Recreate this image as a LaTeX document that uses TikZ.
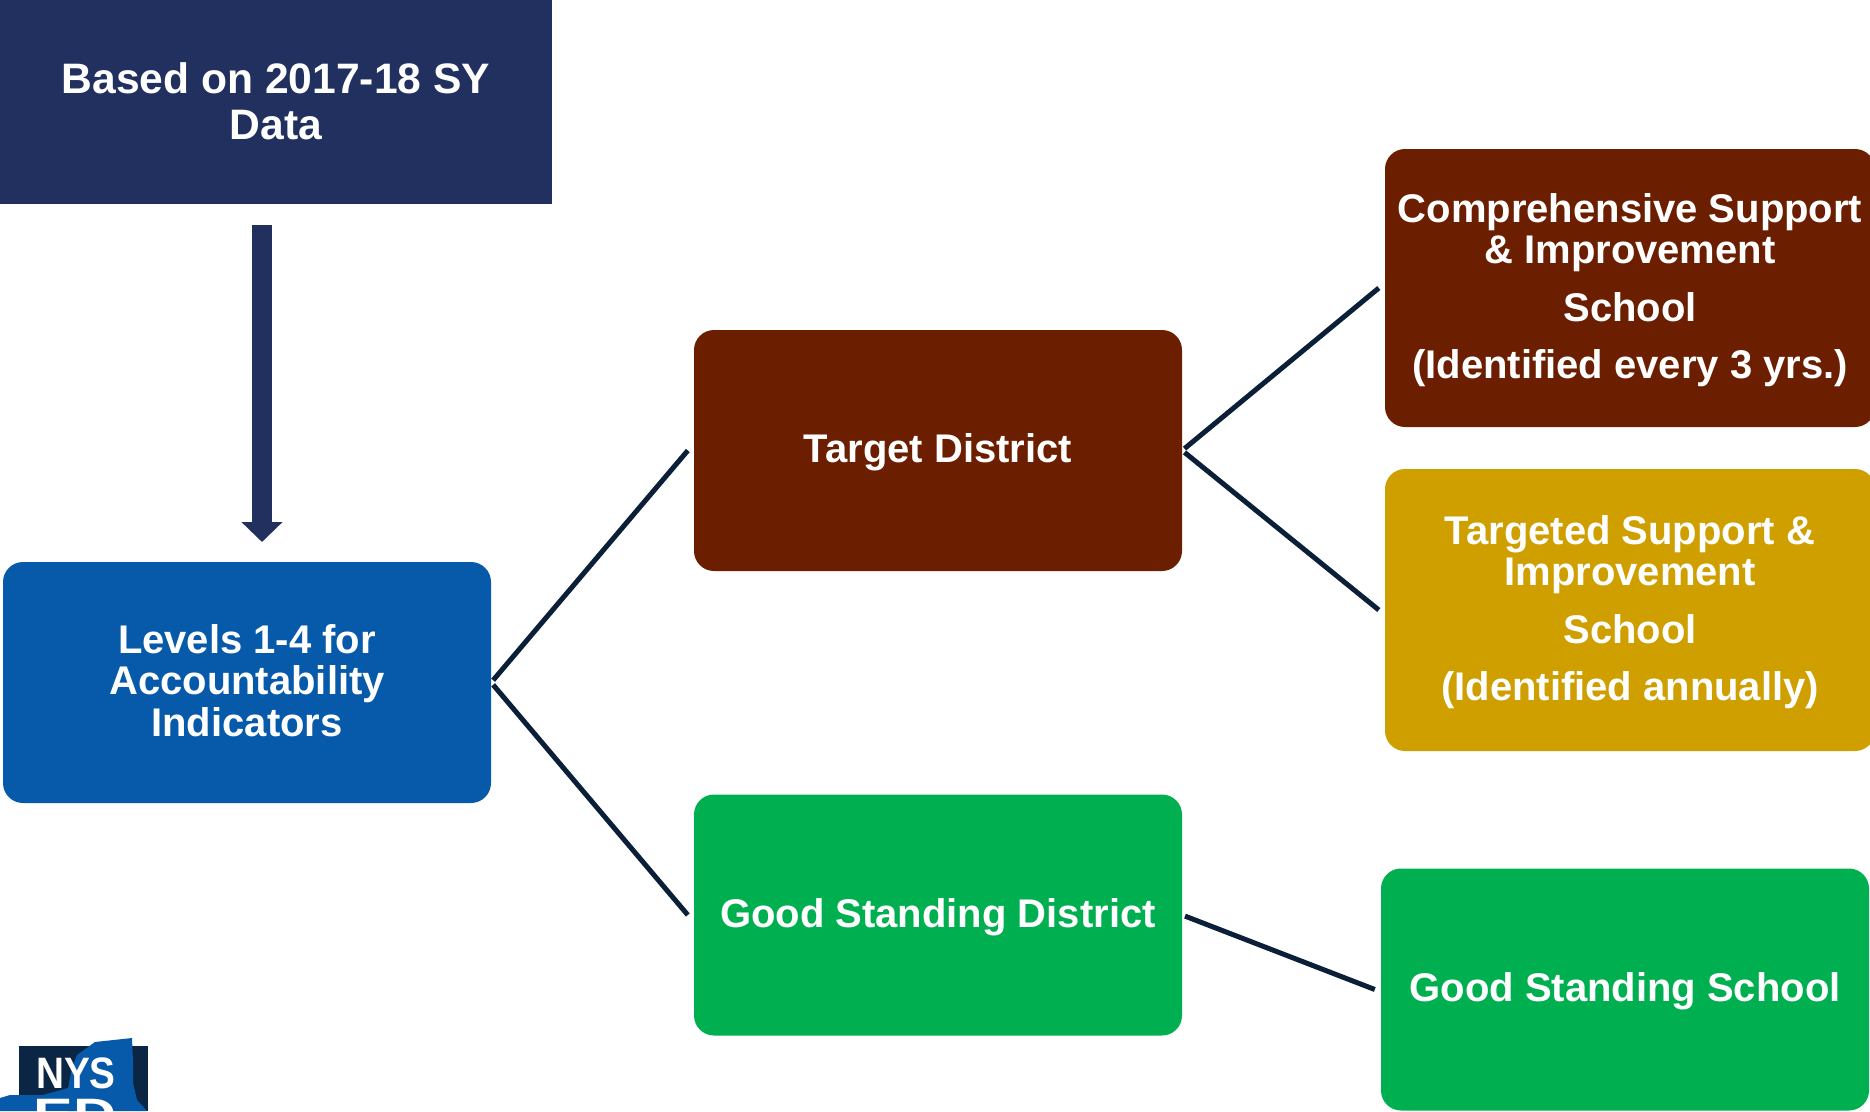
\documentclass[tikz,border=0pt]{standalone}
\usepackage{fontspec}
\setmainfont{Liberation Sans}
\usetikzlibrary{arrows.meta}
\definecolor{navybox}{HTML}{22305F}
\definecolor{bluebox}{HTML}{075AAA}
\definecolor{maroonbox}{HTML}{6B1F00}
\definecolor{goldbox}{HTML}{CF9F00}
\definecolor{greenbox}{HTML}{00B050}
\definecolor{linkline}{HTML}{0B1F38}
\definecolor{logodark}{HTML}{0B2545}
\newcommand{\boxlines}[2]{\raisebox{#1}[0pt][0pt]{\begin{tabular}[t]{@{}c@{}}#2\end{tabular}}}
\begin{document}
\begin{tikzpicture}[x=1pt,y=-1pt]
\tikzset{box/.style={rounded corners=20pt,inner sep=0pt,text=white,align=center,
  font=\fontsize{40}{41}\selectfont\bfseries},
  link/.style={draw=linkline,line width=5pt,shorten <=3pt}}
\useasboundingbox (0,0) rectangle (1870,1111);

\node[box,sharp corners,fill=navybox,minimum width=552pt,minimum height=204pt,
  font=\fontsize{42.6}{46}\selectfont\bfseries] (data) at (276,102) {\boxlines{9pt}{Based on 2017-18 SY\\Data}};
\node[box,fill=bluebox,minimum width=488pt,minimum height=241pt] (levels) at (247,682.5)
  {\boxlines{29pt}{Levels 1-4 for\\Accountability\\Indicators}};
\node[box,fill=maroonbox,minimum width=488pt,minimum height=241pt] (target) at (938,450.5) {\boxlines{-12pt}{Target District}};
\node[box,fill=greenbox,minimum width=488pt,minimum height=241pt] (gooddistrict) at (938,915) {\boxlines{-12.5pt}{Good Standing District}};
\node[box,fill=maroonbox,minimum width=490pt,minimum height=278pt] (csi) at (1630,288)
  {\boxlines{66pt}{Comprehensive Support\\\& Improvement\\[17pt]School\\[16pt](Identified every 3 yrs.)}};
\node[box,fill=goldbox,minimum width=490pt,minimum height=282pt] (tsi) at (1630,610)
  {\boxlines{66pt}{Targeted Support \&\\Improvement\\[17pt]School\\[16pt](Identified annually)}};
\node[box,fill=greenbox,minimum width=488pt,minimum height=242pt] (goodschool) at (1625,989.5) {\boxlines{-12pt}{Good Standing School}};

% links
\foreach \a/\b in {levels/target,levels/gooddistrict,target/csi,target/tsi,gooddistrict/goodschool} {
\draw[link] (\a.east) -- ([xshift=-6pt]\b.west); }

% arrow
\coordinate (arrowtop) at (262,225);
\coordinate (arrowtip) at (262,542);
\draw[navybox,line width=20pt,-{Triangle[width=40pt,length=20pt]}] (arrowtop) -- (arrowtip);

% logo
\begin{scope}
\clip (0,0) rectangle (1870,1111);
\fill[logodark] (19,1046) rectangle (148,1111);
\fill[bluebox] (132,1038) -- (95,1042) -- (77,1055) -- (72,1068) -- (68,1088) -- (43,1095)
  -- (10,1095) -- (0,1098) -- (0,1111) -- (147,1111) -- (137,1100) -- (133,1083) -- (133,1063) -- cycle;
\node[text=white,font=\fontsize{44}{44}\selectfont\bfseries,xscale=0.88,inner sep=0pt,anchor=base] (nys) at (76,1088) {NYS};
\node[text=white,font=\fontsize{44}{44}\selectfont\bfseries,xscale=1.35,inner sep=0pt,anchor=base] (ed) at (75,1129) {ED};
\end{scope}
\end{tikzpicture}
\end{document}
